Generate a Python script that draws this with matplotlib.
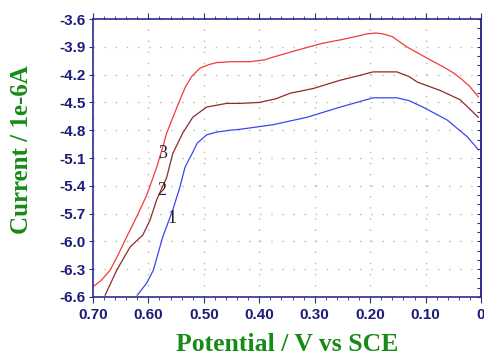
import matplotlib.pyplot as plt
from matplotlib.ticker import MultipleLocator

# curve 1 (blue), 2 (brown), 3 (red): potential in V, current in 1e-6 A
x1 = [0.620, 0.603, 0.591, 0.574, 0.556, 0.543, 0.534, 0.521, 0.512, 0.495, 0.477, 0.453,
      0.435, 0.375, 0.314, 0.254, 0.195, 0.152, 0.130, 0.105, 0.061, 0.025, 0.005]
y1 = [-6.58, -6.45, -6.31, -5.95, -5.66, -5.41, -5.20, -5.05, -4.94, -4.85, -4.82, -4.80,
      -4.79, -4.74, -4.66, -4.55, -4.45, -4.45, -4.48, -4.55, -4.69, -4.87, -5.01]

x2 = [0.678, 0.657, 0.633, 0.610, 0.597, 0.585, 0.567, 0.556, 0.538, 0.520, 0.495, 0.459,
      0.435, 0.400, 0.370, 0.344, 0.303, 0.254, 0.220, 0.195, 0.152, 0.130, 0.115, 0.074,
      0.038, 0.005]
y2 = [-6.58, -6.31, -6.06, -5.93, -5.77, -5.55, -5.31, -5.05, -4.83, -4.66, -4.55, -4.51,
      -4.51, -4.50, -4.46, -4.40, -4.35, -4.26, -4.21, -4.17, -4.17, -4.22, -4.28, -4.37,
      -4.47, -4.66]

x3 = [0.700, 0.685, 0.669, 0.655, 0.639, 0.620, 0.603, 0.585, 0.574, 0.567, 0.555, 0.543,
      0.533, 0.522, 0.507, 0.490, 0.477, 0.450, 0.417, 0.390, 0.375, 0.340, 0.310, 0.285,
      0.250, 0.220, 0.206, 0.190, 0.177, 0.160, 0.134, 0.110, 0.092, 0.070, 0.050, 0.035,
      0.020, 0.005]
y3 = [-6.49, -6.42, -6.31, -6.15, -5.95, -5.72, -5.50, -5.20, -4.98, -4.83, -4.65, -4.47,
      -4.33, -4.22, -4.13, -4.09, -4.07, -4.06, -4.06, -4.04, -4.01, -3.95, -3.90, -3.86,
      -3.82, -3.78, -3.76, -3.75, -3.76, -3.79, -3.90, -3.98, -4.04, -4.11, -4.18, -4.25,
      -4.33, -4.44]

curve_labels = ['1', '2', '3']
label_x = [0.557, 0.575, 0.575]
label_y = [-5.75, -5.45, -5.05]

xticks = [0.70, 0.60, 0.50, 0.40, 0.30, 0.20, 0.10, 0.0]
xtick_labels = ['0.70', '0.60', '0.50', '0.40', '0.30', '0.20', '0.10', '0']
yticks = [-3.6, -3.9, -4.2, -4.5, -4.8, -5.1, -5.4, -5.7, -6.0, -6.3, -6.6]

navy = '#2c2c8c'
tick_col = '#1c1c78'
green = '#178a17'

fig = plt.figure(figsize=(4.84, 3.6), dpi=100)
ax = fig.add_axes([0.192, 0.175, 0.802, 0.772])

ax.plot(x1, y1, color='#3a46f0', lw=0.9)
ax.plot(x2, y2, color='#8a2c2c', lw=0.9)
ax.plot(x3, y3, color='#f23a3a', lw=0.9)

for lab, lx, ly in zip(curve_labels, label_x, label_y):
    ax.text(lx, ly, lab, fontsize=13, family='Liberation Serif', color='#222222',
            ha='center', va='center')

ax.set_xlim(0.70, 0.0)
ax.set_ylim(-6.6, -3.6)
ax.set_xticks(xticks)
ax.set_xticklabels(xtick_labels)
ax.set_yticks(yticks)
ax.set_yticklabels(['%.1f' % v for v in yticks])

ax.grid(True, linestyle=(0, (1, 7)), color='#bcbc98', lw=1)

for s in ax.spines.values():
    s.set_color(navy)
    s.set_linewidth(1.2)

ax.xaxis.set_minor_locator(MultipleLocator(0.02))
ax.tick_params(axis='x', which='both', direction='out', top=True, bottom=True,
               colors=navy, labelcolor=tick_col)
ax.tick_params(axis='x', which='major', length=4, pad=4)
ax.tick_params(axis='x', which='minor', length=2.5)
ax.tick_params(axis='y', which='major', direction='out', left=True, right=False,
               length=3, pad=2, colors=navy, labelcolor=tick_col)

# right side only carries small inward ticks
ay = ax.secondary_yaxis('right')
ay.set_yticks([-3.6 - 0.1 * i for i in range(31)])
ay.tick_params(direction='in', length=3, colors=navy, labelright=False)
ay.spines['right'].set_color(navy)
ay.spines['right'].set_linewidth(1.2)

for lab in ax.get_xticklabels() + ax.get_yticklabels():
    lab.set_family('Liberation Sans')
    lab.set_fontsize(11)
    lab.set_weight('bold')

ax.set_xlabel('Potential / V vs SCE', family='Liberation Serif', weight='bold',
              fontsize=18.5, color=green, labelpad=8)
ax.set_ylabel('Current / 1e-6A', family='Liberation Serif', weight='bold',
              fontsize=18, color=green)
ax.yaxis.set_label_coords(-0.155, 0.53)

fig.savefig('out.png', dpi=100)
